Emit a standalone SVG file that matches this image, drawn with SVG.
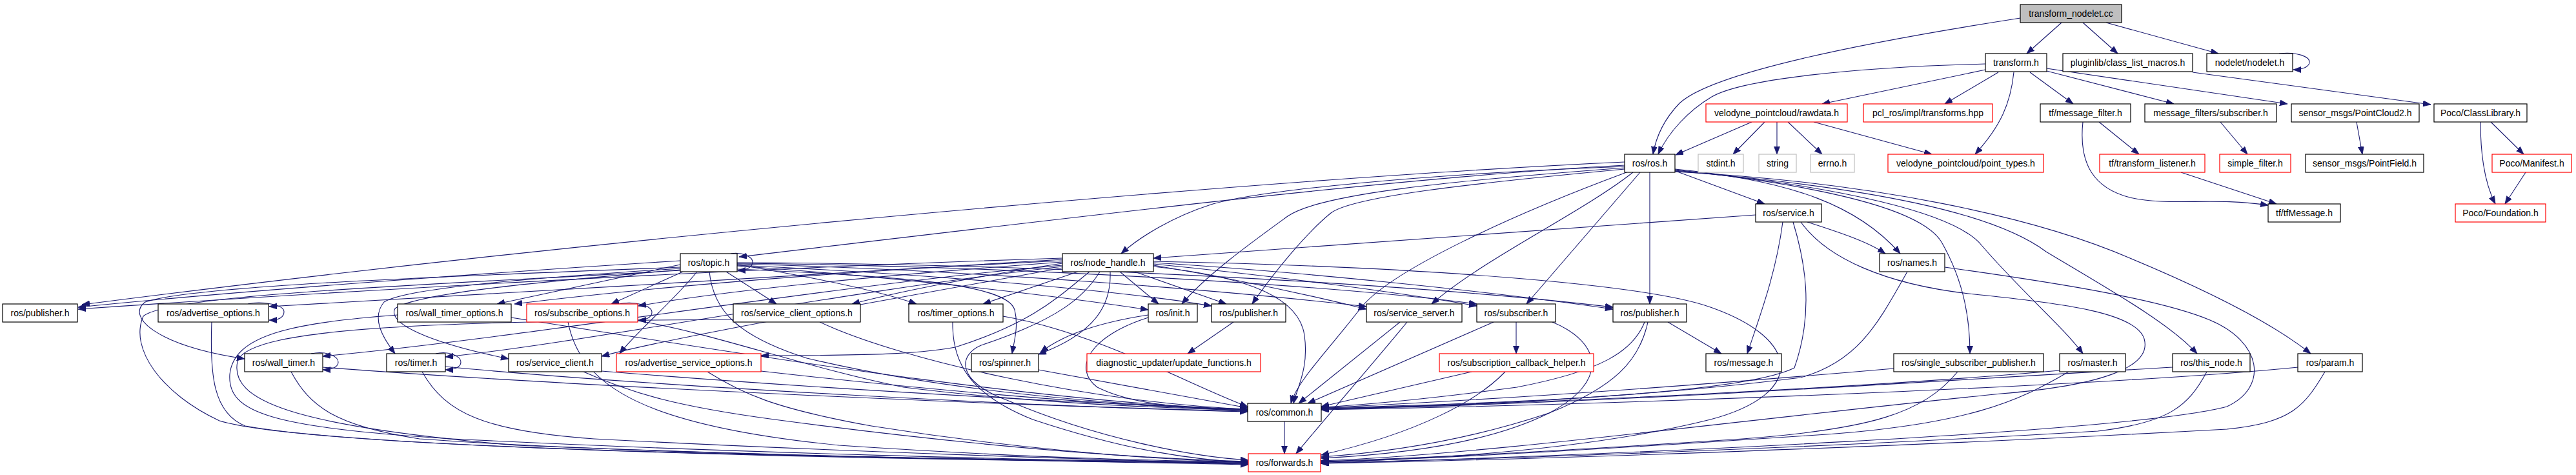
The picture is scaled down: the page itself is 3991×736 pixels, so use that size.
<svg xmlns="http://www.w3.org/2000/svg" width="3991" height="736" viewBox="0 0 3991 736">
<style>
.node rect{fill:#fff;stroke:#000;stroke-width:1.2}
.node.red rect{stroke:#ff0000}
.node.gray rect{stroke:#bfbfbf}
.node.root rect{fill:#bfbfbf}
.node text{font-family:"Liberation Sans",Arial,sans-serif;font-size:14px;text-anchor:middle;fill:#000}
#edges path{fill:none;stroke:#191970;stroke-width:1.1;marker-end:url(#arr)}
</style>
<defs>
<marker id="arr" markerUnits="userSpaceOnUse" markerWidth="13" markerHeight="10" refX="12" refY="4.5" orient="auto"><path d="M0,0 L12,4.5 L0,9 z" fill="#191970" stroke="#191970" stroke-width="0.8"/></marker>
</defs>
<rect x="0" y="0" width="3991" height="736" fill="#fff"/>
<g id="edges">
<path d="M3130,28 C2860,70 2650,115 2602,160 C2578,185 2566,210 2561,239"/>
<path d="M3194,35 L3140,83"/>
<path d="M3227,35 L3281,83"/>
<path d="M3263,35 L3437,83"/>
<path d="M3531,83 C3560,80 3578,88 3578,96 C3578,104 3566,108 3553,108"/>
<path d="M3076,99 C2880,104 2700,122 2652,150 C2615,172 2585,205 2569,239"/>
<path d="M3076,108 L2823,161"/>
<path d="M3096,112 L3013,161"/>
<path d="M3120,112 C3115,160 3100,195 3060,239"/>
<path d="M3145,112 L3212,161"/>
<path d="M3171,110 L3368,161"/>
<path d="M3171,106 L3544,161"/>
<path d="M3397,112 L3766,162"/>
<path d="M2714,189 L2596,240"/>
<path d="M2734,189 L2685,239"/>
<path d="M2753,189 L2753,239"/>
<path d="M2770,189 L2823,239"/>
<path d="M2810,189 L2993,239"/>
<path d="M3252,189 L3314,239"/>
<path d="M3227,189 C3220,255 3245,292 3300,306 C3360,320 3430,305 3514,318"/>
<path d="M3379,267 L3527,316"/>
<path d="M3440,189 L3482,239"/>
<path d="M3651,189 L3660,239"/>
<path d="M3859,189 L3910,239"/>
<path d="M3843,189 C3843,240 3850,285 3866,316"/>
<path d="M3913,267 L3881,316"/>
<path d="M2596,265 L2734,316"/>
<path d="M2595,262 C2780,280 2880,320 2944,393"/>
<path d="M2595,263 C2800,285 2975,320 3008,375 C3045,440 3052,500 3052,548"/>
<path d="M2595,264 C2850,288 3030,330 3070,380 C3130,450 3195,505 3227,548"/>
<path d="M2595,265 C2900,290 3090,330 3170,390 C3270,450 3360,500 3404,548"/>
<path d="M2595,266 C2900,282 3150,335 3300,400 C3420,450 3520,500 3580,548"/>
<path d="M2517,251 C2000,275 1000,360 127,472"/>
<path d="M2517,256 C2150,275 1600,345 1145,398"/>
<path d="M2517,258 C2200,270 1950,295 1876,317 C1820,335 1768,365 1737,393"/>
<path d="M2517,260 C2250,280 2045,300 1995,335 C1940,375 1870,425 1831,471"/>
<path d="M2517,262 C2270,285 2095,305 2062,330 C2025,360 1975,420 1940,471"/>
<path d="M2520,267 C2350,330 2150,420 2106,480 C2060,540 2010,590 2000,625"/>
<path d="M2530,267 C2450,330 2300,400 2218,471"/>
<path d="M2541,267 L2365,471"/>
<path d="M2556,267 L2556,471"/>
<path d="M2720,333 L1787,400"/>
<path d="M2800,344 C2850,360 2895,375 2921,393"/>
<path d="M2762,344 C2752,420 2730,480 2707,548"/>
<path d="M2778,344 C2795,400 2812,480 2780,570 C2700,610 2350,625 2047,632"/>
<path d="M2790,344 C2830,400 2920,440 3050,455 C3200,470 3310,485 3322,525 C3335,570 3250,598 3100,610 C2700,650 2300,705 2046,714"/>
<path d="M2955,421 C2910,500 2880,560 2790,585 C2550,615 2300,628 2047,634"/>
<path d="M3013,414 C3200,440 3350,465 3424,496 C3505,530 3515,600 3450,630 C3300,670 2500,705 2046,718"/>
<path d="M1132,393 C1150,390 1166,398 1166,406 C1166,414 1156,419 1143,419"/>
<path d="M1054,404 C800,420 400,448 121,476"/>
<path d="M1054,410 C960,430 860,452 770,471"/>
<path d="M1058,421 L947,471"/>
<path d="M1125,421 L1203,471"/>
<path d="M1142,410 C1250,428 1360,450 1420,471"/>
<path d="M1142,412 C1400,430 1650,460 1779,480"/>
<path d="M1142,411 C1450,425 1750,452 1877,474"/>
<path d="M1142,409 C1500,418 1900,450 2117,475"/>
<path d="M1142,408 C1550,412 2050,440 2288,471"/>
<path d="M1142,407 C1600,408 2200,440 2499,476"/>
<path d="M1054,414 C700,428 300,442 225,468 C195,490 240,535 379,556"/>
<path d="M1054,416 C800,432 625,448 595,468 C575,492 592,522 612,548"/>
<path d="M1054,418 C820,438 645,455 612,478 C600,500 660,530 788,556"/>
<path d="M1080,421 C1040,470 985,515 960,548"/>
<path d="M1142,417 C1400,428 1560,440 1572,480 C1578,505 1572,525 1568,548"/>
<path d="M1099,421 C1105,480 1140,520 1250,555 C1500,615 1800,630 1933,635"/>
<path d="M1054,419 C700,440 260,455 222,490 C200,540 250,610 340,652 C500,700 1500,712 1934,716"/>
<path d="M1646,400 C1200,414 600,446 121,479"/>
<path d="M1646,402 C1300,420 800,456 417,475"/>
<path d="M1646,404 C1300,420 1000,446 797,471"/>
<path d="M1646,406 C1400,424 1150,446 989,474"/>
<path d="M1646,408 C1500,430 1380,455 1320,471"/>
<path d="M1670,421 L1523,471"/>
<path d="M1735,421 L1795,471"/>
<path d="M1758,421 L1900,471"/>
<path d="M1787,411 C1900,430 2020,455 2117,479"/>
<path d="M1787,409 C1950,425 2150,450 2288,474"/>
<path d="M1787,407 C2000,420 2300,450 2499,479"/>
<path d="M1646,411 C1300,440 800,525 500,552"/>
<path d="M1646,413 C1300,452 900,532 690,553"/>
<path d="M1646,415 C1350,470 1050,520 932,552"/>
<path d="M1688,421 C1640,460 1600,500 1480,538 C1400,552 1300,550 1179,551"/>
<path d="M1720,421 C1722,470 1700,515 1609,549"/>
<path d="M1787,413 C1900,425 2012,450 2021,520 C2028,570 2010,600 2004,625"/>
<path d="M1704,421 C1680,460 1640,495 1520,535 C1485,550 1480,590 1560,620 C1700,680 1850,708 1934,713"/>
<path d="M1787,405 C2200,413 2550,440 2650,476 C2790,525 2800,610 2650,650 C2450,700 2200,712 2046,716"/>
<path d="M384,471 C405,466 440,472 440,483 C440,492 432,496 417,496"/>
<path d="M328,499 C325,580 330,640 380,660 C600,700 1500,714 1934,717"/>
<path d="M792,492 C1100,540 1600,625 1933,634"/>
<path d="M616,488 C450,500 362,520 356,580 C352,640 420,662 700,680 C1200,705 1700,714 1934,719"/>
<path d="M988,497 C1100,515 1250,570 1400,600 C1600,625 1800,632 1933,636"/>
<path d="M880,499 C900,600 1000,660 1300,690 C1600,710 1800,714 1934,716"/>
<path d="M958,471 C985,466 1010,474 1010,484 C1010,492 1000,496 989,496"/>
<path d="M1270,499 C1400,560 1700,625 1933,634"/>
<path d="M1136,495 C700,498 385,505 368,560 C355,620 450,660 800,690 C1300,710 1700,715 1934,720"/>
<path d="M1554,490 C1700,515 1850,600 1933,630"/>
<path d="M1476,499 C1475,560 1500,610 1600,650 C1750,700 1850,712 1934,717"/>
<path d="M1779,492 C1690,520 1660,570 1700,600 C1760,630 1850,633 1933,634"/>
<path d="M1779,488 C1700,500 1645,520 1612,546"/>
<path d="M1911,499 L1840,548"/>
<path d="M2169,499 L2012,625"/>
<path d="M2180,499 C2130,560 2060,640 2008,703"/>
<path d="M2314,499 L2026,625"/>
<path d="M2349,499 L2349,548"/>
<path d="M2405,499 C2480,530 2495,590 2400,640 C2300,690 2150,705 2047,710"/>
<path d="M2280,576 L2047,630"/>
<path d="M2332,576 C2290,620 2200,670 2047,705"/>
<path d="M2584,499 L2667,548"/>
<path d="M2548,499 C2530,545 2480,575 2350,600 C2200,620 2100,628 2047,631"/>
<path d="M2553,499 C2540,560 2500,600 2400,640 C2250,690 2120,703 2047,708"/>
<path d="M1990,653 L1990,703"/>
<path d="M1609,573 L1933,632"/>
<path d="M932,575 C1300,605 1700,625 1933,635"/>
<path d="M904,576 C980,610 1050,630 1200,650 C1500,690 1750,710 1934,715"/>
<path d="M1179,575 C1400,600 1700,628 1933,636"/>
<path d="M1096,576 C1150,610 1200,633 1350,660 C1600,700 1800,712 1934,717"/>
<path d="M482,548 C505,543 524,552 524,561 C524,569 514,573 500,573"/>
<path d="M500,569 C900,600 1600,630 1933,637"/>
<path d="M451,576 C480,630 520,660 650,680 C1000,705 1600,714 1934,718"/>
<path d="M675,548 C695,543 714,552 714,561 C714,569 704,573 690,573"/>
<path d="M690,568 C1000,598 1600,630 1933,638"/>
<path d="M654,576 C690,640 750,668 920,680 C1300,700 1700,712 1934,719"/>
<path d="M2934,571 C2600,600 2300,620 2047,632"/>
<path d="M3033,576 C2980,640 2900,665 2700,680 C2400,700 2200,710 2047,715"/>
<path d="M3191,574 C2900,600 2400,625 2047,633"/>
<path d="M3205,576 C3130,620 3050,660 2800,675 C2500,695 2250,710 2047,716"/>
<path d="M3366,569 C3000,590 2500,625 2047,634"/>
<path d="M3419,576 C3390,630 3360,655 3250,668 C2800,695 2300,712 2047,717"/>
<path d="M3560,569 C3300,595 2600,625 2047,635"/>
<path d="M3602,576 C3570,630 3550,655 3450,665 C3000,690 2400,712 2047,718"/>
</g>
<g id="n_root" class="node root"><rect x="3130" y="7" width="157" height="28"/><text x="3208.5" y="26">transform_nodelet.cc</text></g>
<g id="n_transform" class="node"><rect x="3076" y="83" width="95" height="28"/><text x="3123.5" y="102">transform.h</text></g>
<g id="n_plugin" class="node"><rect x="3196" y="83" width="201" height="28"/><text x="3296.5" y="102">pluginlib/class_list_macros.h</text></g>
<g id="n_nodelet" class="node"><rect x="3419" y="83" width="133" height="28"/><text x="3485.5" y="102">nodelet/nodelet.h</text></g>
<g id="n_rawdata" class="node red"><rect x="2643" y="161" width="219" height="28"/><text x="2752.5" y="180">velodyne_pointcloud/rawdata.h</text></g>
<g id="n_pcl" class="node red"><rect x="2887" y="161" width="200" height="28"/><text x="2987" y="180">pcl_ros/impl/transforms.hpp</text></g>
<g id="n_msgfilter" class="node"><rect x="3161" y="161" width="140" height="28"/><text x="3231" y="180">tf/message_filter.h</text></g>
<g id="n_mfsub" class="node"><rect x="3323" y="161" width="204" height="28"/><text x="3425" y="180">message_filters/subscriber.h</text></g>
<g id="n_pc2" class="node"><rect x="3550" y="161" width="198" height="28"/><text x="3649" y="180">sensor_msgs/PointCloud2.h</text></g>
<g id="n_pococl" class="node"><rect x="3771" y="161" width="144" height="28"/><text x="3843" y="180">Poco/ClassLibrary.h</text></g>
<g id="n_rosh" class="node"><rect x="2517" y="239" width="78" height="28"/><text x="2556" y="258">ros/ros.h</text></g>
<g id="n_stdint" class="node gray"><rect x="2631" y="239" width="70" height="28"/><text x="2666" y="258">stdint.h</text></g>
<g id="n_string" class="node gray"><rect x="2725" y="239" width="58" height="28"/><text x="2754" y="258">string</text></g>
<g id="n_errno" class="node gray"><rect x="2805" y="239" width="68" height="28"/><text x="2839" y="258">errno.h</text></g>
<g id="n_pt" class="node red"><rect x="2925" y="239" width="241" height="28"/><text x="3045.5" y="258">velodyne_pointcloud/point_types.h</text></g>
<g id="n_tflist" class="node red"><rect x="3253" y="239" width="163" height="28"/><text x="3334.5" y="258">tf/transform_listener.h</text></g>
<g id="n_simple" class="node red"><rect x="3439" y="239" width="110" height="28"/><text x="3494" y="258">simple_filter.h</text></g>
<g id="n_pf" class="node"><rect x="3572" y="239" width="183" height="28"/><text x="3663.5" y="258">sensor_msgs/PointField.h</text></g>
<g id="n_manifest" class="node red"><rect x="3861" y="239" width="123" height="28"/><text x="3922.5" y="258">Poco/Manifest.h</text></g>
<g id="n_service" class="node"><rect x="2720" y="316" width="102" height="28"/><text x="2771" y="335">ros/service.h</text></g>
<g id="n_tfmsg" class="node"><rect x="3514" y="316" width="112" height="28"/><text x="3570" y="335">tf/tfMessage.h</text></g>
<g id="n_foundation" class="node red"><rect x="3804" y="316" width="140" height="28"/><text x="3874" y="335">Poco/Foundation.h</text></g>
<g id="n_topic" class="node"><rect x="1054" y="393" width="88" height="28"/><text x="1098" y="412">ros/topic.h</text></g>
<g id="n_nh" class="node"><rect x="1646" y="393" width="141" height="28"/><text x="1716.5" y="412">ros/node_handle.h</text></g>
<g id="n_names" class="node"><rect x="2912" y="393" width="101" height="28"/><text x="2962.5" y="412">ros/names.h</text></g>
<g id="n_pub1" class="node"><rect x="4" y="471" width="116" height="28"/><text x="62" y="490">ros/publisher.h</text></g>
<g id="n_advopt" class="node"><rect x="245" y="471" width="171" height="28"/><text x="330.5" y="490">ros/advertise_options.h</text></g>
<g id="n_wtopt" class="node"><rect x="616" y="471" width="176" height="28"/><text x="704" y="490">ros/wall_timer_options.h</text></g>
<g id="n_subopt" class="node red"><rect x="816" y="471" width="172" height="28"/><text x="902" y="490">ros/subscribe_options.h</text></g>
<g id="n_scopt" class="node"><rect x="1136" y="471" width="197" height="28"/><text x="1234.5" y="490">ros/service_client_options.h</text></g>
<g id="n_topt" class="node"><rect x="1408" y="471" width="146" height="28"/><text x="1481" y="490">ros/timer_options.h</text></g>
<g id="n_init" class="node"><rect x="1779" y="471" width="76" height="28"/><text x="1817" y="490">ros/init.h</text></g>
<g id="n_pub2" class="node"><rect x="1877" y="471" width="115" height="28"/><text x="1934.5" y="490">ros/publisher.h</text></g>
<g id="n_ss" class="node"><rect x="2117" y="471" width="148" height="28"/><text x="2191" y="490">ros/service_server.h</text></g>
<g id="n_sub" class="node"><rect x="2288" y="471" width="122" height="28"/><text x="2349" y="490">ros/subscriber.h</text></g>
<g id="n_pub3" class="node"><rect x="2499" y="471" width="114" height="28"/><text x="2556" y="490">ros/publisher.h</text></g>
<g id="n_wt" class="node"><rect x="379" y="548" width="121" height="28"/><text x="439.5" y="567">ros/wall_timer.h</text></g>
<g id="n_timer" class="node"><rect x="599" y="548" width="91" height="28"/><text x="644.5" y="567">ros/timer.h</text></g>
<g id="n_sc" class="node"><rect x="788" y="548" width="144" height="28"/><text x="860" y="567">ros/service_client.h</text></g>
<g id="n_asopt" class="node red"><rect x="955" y="548" width="224" height="28"/><text x="1067" y="567">ros/advertise_service_options.h</text></g>
<g id="n_spinner" class="node"><rect x="1505" y="548" width="104" height="28"/><text x="1557" y="567">ros/spinner.h</text></g>
<g id="n_diag" class="node red"><rect x="1684" y="548" width="269" height="28"/><text x="1818.5" y="567">diagnostic_updater/update_functions.h</text></g>
<g id="n_sch" class="node red"><rect x="2230" y="548" width="239" height="28"/><text x="2349.5" y="567">ros/subscription_callback_helper.h</text></g>
<g id="n_msg" class="node"><rect x="2643" y="548" width="117" height="28"/><text x="2701.5" y="567">ros/message.h</text></g>
<g id="n_ssp" class="node"><rect x="2934" y="548" width="232" height="28"/><text x="3050" y="567">ros/single_subscriber_publisher.h</text></g>
<g id="n_master" class="node"><rect x="3191" y="548" width="102" height="28"/><text x="3242" y="567">ros/master.h</text></g>
<g id="n_thisnode" class="node"><rect x="3366" y="548" width="120" height="28"/><text x="3426" y="567">ros/this_node.h</text></g>
<g id="n_param" class="node"><rect x="3560" y="548" width="100" height="28"/><text x="3610" y="567">ros/param.h</text></g>
<g id="n_common" class="node"><rect x="1933" y="625" width="114" height="28"/><text x="1990" y="644">ros/common.h</text></g>
<g id="n_fwd" class="node red"><rect x="1934" y="703" width="112" height="28"/><text x="1990" y="722">ros/forwards.h</text></g>
</svg>
